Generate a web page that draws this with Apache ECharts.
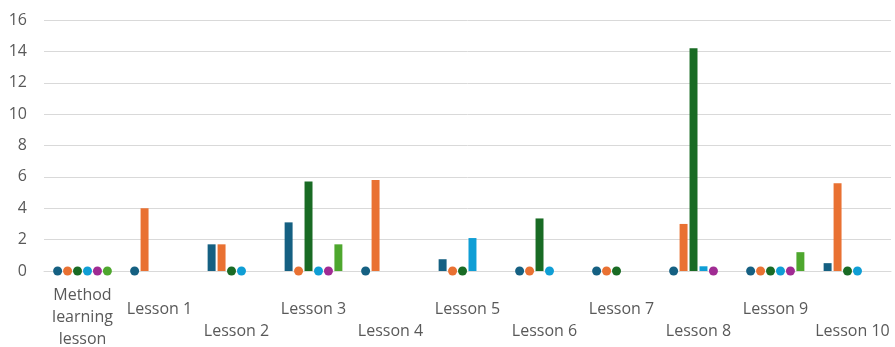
<!DOCTYPE html>
<html>
<head>
<meta charset="utf-8">
<script src="https://cdn.jsdelivr.net/npm/echarts@6/dist/echarts.min.js"></script>
<style>
  html, body { margin: 0; padding: 0; background: #fff; }
  #chart { width: 895px; height: 347px; }
</style>
</head>
<body>
<div id="chart"></div>
<script>
// Lessons along the x axis
const categories = ['Method learning lesson', 'Lesson 1', 'Lesson 2', 'Lesson 3', 'Lesson 4',
  'Lesson 5', 'Lesson 6', 'Lesson 7', 'Lesson 8', 'Lesson 9', 'Lesson 10'];

// One array per series; null = no entry, 0 = recorded zero (drawn as a dot)
const seriesA = [0, 0, 1.7, 3.1, 0, 0.75, 0, 0, 0, 0, 0.5];
const seriesB = [0, 4, 1.7, 0, 5.8, 0, 0, 0, 3.0, 0, 5.6];
const seriesC = [0, null, 0, 5.7, null, 0, 3.35, 0, 14.2, 0, 0];
const seriesD = [0, null, 0, 0, null, 2.1, 0, null, 0.3, 0, 0];
const seriesE = [0, null, null, 0, null, null, null, null, 0, 0, null];
const seriesF = [0, null, null, 1.7, null, null, null, null, null, 1.2, null];

const yTicks = [0, 2, 4, 6, 8, 10, 12, 14, 16];

const palette = ['#156082', '#E97132', '#196B24', '#0F9ED5', '#A02B93', '#4EA72E'];
const allSeries = [seriesA, seriesB, seriesC, seriesD, seriesE, seriesF];

function toItems(arr) {
  return arr.map(v => {
    if (v === null) return '-';
    if (v === 0) {
      return { value: 0, symbol: 'circle', symbolSize: [9, 9], symbolPosition: 'center' };
    }
    return { value: v, symbol: 'rect', symbolSize: ['100%', '100%'] };
  });
}

const chart = echarts.init(document.getElementById('chart'), null, { renderer: 'canvas' });

const labelFont = { fontFamily: 'Open Sans', fontSize: 16, color: '#595959' };

chart.setOption({
  animation: false,
  grid: { left: 44, right: 4, top: 20, bottom: 74, containLabel: false },
  xAxis: {
    type: 'category',
    data: categories,
    axisTick: { show: false },
    axisLine: { lineStyle: { color: '#d9d9d9', width: 1 } },
    axisLabel: {
      interval: 0,
      margin: 46,
      verticalAlign: 'middle',
      ...labelFont,
      formatter: (val, idx) => {
        if (idx === 0) return '{m|Method}\n{m|learning}\n{m|lesson}';
        return idx % 2 === 1 ? '{u|' + val + '}' : '{d|' + val + '}';
      },
      rich: {
        m: { ...labelFont, lineHeight: 22 },
        u: { ...labelFont, lineHeight: 22, padding: [0, 0, 16, 0] },
        d: { ...labelFont, lineHeight: 22, padding: [28, 0, 0, 0] }
      }
    }
  },
  yAxis: {
    type: 'value',
    min: yTicks[0],
    max: yTicks[yTicks.length - 1],
    interval: 2,
    axisLine: { show: false },
    axisTick: { show: false },
    splitLine: { lineStyle: { color: '#d9d9d9', width: 1 } },
    axisLabel: { margin: 17, ...labelFont }
  },
  series: allSeries.map((arr, i) => ({
    type: 'pictorialBar',
    data: toItems(arr),
    barCategoryGap: '25%',
    barGap: '25%',
    itemStyle: { color: palette[i] },
    z: 3
  }))
});
</script>
</body>
</html>
